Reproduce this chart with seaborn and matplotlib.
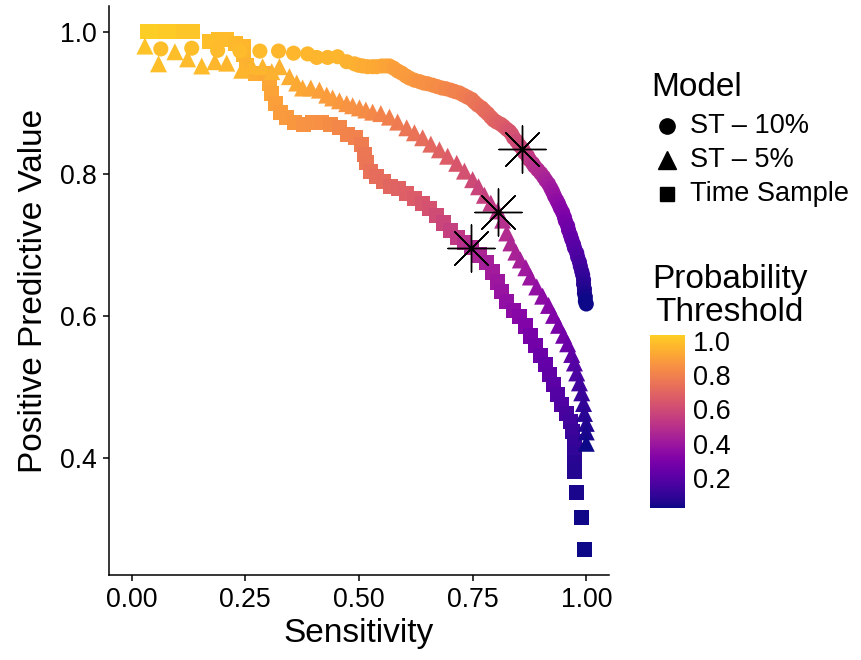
import numpy as np
import pandas as pd
import matplotlib
matplotlib.use("Agg")
import matplotlib.pyplot as plt
from matplotlib.lines import Line2D
from matplotlib.colors import Normalize, ListedColormap
from matplotlib.cm import ScalarMappable
import seaborn as sns

# ---------------- data ----------------
models = ["ST \u2013 10%", "ST \u2013 5%", "Time Sample"]

st10_sens = [0.064, 0.132, 0.189, 0.238, 0.282, 0.323, 0.356, 0.387, 0.407, 0.431, 0.453, 0.473,
             0.490, 0.499, 0.508, 0.519, 0.530, 0.539, 0.550, 0.559, 0.567, 0.576, 0.585, 0.594,
             0.603, 0.611, 0.622, 0.633, 0.642, 0.651, 0.662, 0.672, 0.682, 0.691, 0.702, 0.711,
             0.721, 0.730, 0.739, 0.748, 0.754, 0.761, 0.770, 0.776, 0.783, 0.790, 0.796, 0.803,
             0.812, 0.818, 0.825, 0.831, 0.836, 0.840, 0.847, 0.853, 0.860, 0.864, 0.871, 0.875,
             0.882, 0.886, 0.893, 0.900, 0.906, 0.911, 0.917, 0.922, 0.926, 0.930, 0.935, 0.939,
             0.943, 0.948, 0.952, 0.954, 0.959, 0.961, 0.965, 0.968, 0.972, 0.974, 0.979, 0.981,
             0.985, 0.987, 0.990, 0.992, 0.994, 0.994, 0.996, 0.996, 0.998, 0.998, 1.000]
st10_ppv = [0.976, 0.977, 0.974, 0.973, 0.973, 0.973, 0.970, 0.969, 0.964, 0.964, 0.965, 0.958,
            0.955, 0.953, 0.952, 0.951, 0.951, 0.951, 0.952, 0.952, 0.952, 0.949, 0.945, 0.942,
            0.938, 0.935, 0.932, 0.930, 0.928, 0.927, 0.925, 0.923, 0.921, 0.920, 0.918, 0.916,
            0.914, 0.911, 0.908, 0.905, 0.901, 0.897, 0.893, 0.889, 0.885, 0.880, 0.876, 0.873,
            0.870, 0.867, 0.863, 0.860, 0.856, 0.851, 0.846, 0.840, 0.835, 0.830, 0.825, 0.820,
            0.815, 0.811, 0.806, 0.801, 0.796, 0.791, 0.786, 0.780, 0.775, 0.769, 0.763, 0.758,
            0.752, 0.746, 0.739, 0.734, 0.727, 0.721, 0.714, 0.708, 0.701, 0.696, 0.689, 0.683,
            0.676, 0.670, 0.663, 0.658, 0.651, 0.645, 0.638, 0.632, 0.627, 0.621, 0.617]
st10_thr = [0.99, 0.99, 0.98, 0.98, 0.98, 0.97,
            0.97, 0.97, 0.96, 0.96, 0.96, 0.95,
            0.95, 0.945, 0.94, 0.935, 0.93, 0.925, 0.92, 0.915, 0.91, 0.90, 0.895, 0.89,
            0.885, 0.88, 0.87, 0.865, 0.86, 0.85, 0.845, 0.835, 0.83, 0.82, 0.815, 0.805,
            0.80, 0.79, 0.78, 0.77, 0.76, 0.75, 0.74, 0.73, 0.72, 0.71, 0.70, 0.69,
            0.68, 0.67, 0.655, 0.64, 0.63, 0.62, 0.60, 0.59, 0.575, 0.56, 0.545, 0.53,
            0.515, 0.50, 0.485, 0.47, 0.455, 0.44, 0.425, 0.41, 0.395, 0.38, 0.365, 0.35,
            0.335, 0.32, 0.305, 0.29, 0.275, 0.26, 0.245, 0.23, 0.215, 0.20, 0.185, 0.17,
            0.155, 0.14, 0.125, 0.11, 0.095, 0.08, 0.065, 0.05, 0.04, 0.03, 0.023]

st5_sens = [0.029, 0.059, 0.095, 0.123, 0.154, 0.183, 0.209, 0.242, 0.264, 0.288, 0.308, 0.325,
            0.347, 0.363, 0.376, 0.394, 0.413, 0.429, 0.442, 0.457, 0.473, 0.486, 0.501, 0.515,
            0.530, 0.548, 0.567, 0.585, 0.605, 0.622, 0.640, 0.658, 0.677, 0.695, 0.715, 0.732,
            0.750, 0.763, 0.776, 0.790, 0.805, 0.816, 0.825, 0.834, 0.845, 0.855, 0.867, 0.877,
            0.891, 0.904, 0.917, 0.928, 0.939, 0.950, 0.959, 0.968, 0.974, 0.979, 0.985, 0.990,
            0.994, 0.996, 1.000, 1.000, 1.000]
st5_ppv = [0.980, 0.955, 0.972, 0.962, 0.952, 0.958, 0.956, 0.946, 0.952, 0.951, 0.944, 0.951,
           0.937, 0.928, 0.921, 0.921, 0.918, 0.911, 0.907, 0.903, 0.899, 0.896, 0.893, 0.890,
           0.887, 0.885, 0.880, 0.873, 0.865, 0.858, 0.851, 0.842, 0.834, 0.825, 0.815, 0.804,
           0.792, 0.782, 0.770, 0.759, 0.748, 0.735, 0.717, 0.703, 0.690, 0.679, 0.668, 0.655,
           0.641, 0.628, 0.615, 0.601, 0.587, 0.573, 0.561, 0.546, 0.534, 0.520, 0.506, 0.492,
           0.477, 0.463, 0.449, 0.437, 0.421]
st5_thr = [1.00, 0.99, 0.99, 0.98, 0.98, 0.97, 0.97, 0.96, 0.96, 0.96, 0.95, 0.95,
           0.94, 0.93, 0.92, 0.91, 0.90, 0.89, 0.885, 0.875, 0.865, 0.855, 0.845, 0.835,
           0.825, 0.81, 0.795, 0.78, 0.765, 0.75, 0.73, 0.71, 0.69, 0.67, 0.645, 0.62,
           0.595, 0.575, 0.555, 0.53, 0.505, 0.49, 0.475, 0.46, 0.445, 0.43, 0.41, 0.39,
           0.37, 0.35, 0.33, 0.31, 0.29, 0.27, 0.25, 0.22, 0.19, 0.165, 0.14, 0.12,
           0.10, 0.08, 0.06, 0.045, 0.03]

ts_sens = [0.035, 0.055, 0.075, 0.095, 0.114, 0.134, 0.172, 0.191, 0.209, 0.229, 0.246, 0.246,
           0.253, 0.273, 0.295, 0.303, 0.308, 0.317, 0.328, 0.341, 0.358, 0.378, 0.398, 0.418,
           0.438, 0.457, 0.475, 0.493, 0.506, 0.512, 0.517, 0.526, 0.539, 0.554, 0.570, 0.587,
           0.605, 0.622, 0.640, 0.655, 0.671, 0.686, 0.702, 0.717, 0.732, 0.748, 0.765, 0.781,
           0.794, 0.805, 0.814, 0.825, 0.840, 0.853, 0.867, 0.877, 0.888, 0.900, 0.910, 0.919,
           0.928, 0.937, 0.946, 0.957, 0.965, 0.970, 0.974, 0.974, 0.974, 0.974, 0.979, 0.990,
           0.996]
ts_ppv = [1.000, 1.000, 1.000, 1.000, 1.000, 1.000, 0.986, 0.989, 0.989, 0.983, 0.979, 0.968,
          0.952, 0.941, 0.941, 0.927, 0.913, 0.899, 0.887, 0.879, 0.872, 0.870, 0.872, 0.873,
          0.870, 0.865, 0.856, 0.851, 0.841, 0.828, 0.816, 0.804, 0.796, 0.789, 0.783, 0.779,
          0.773, 0.766, 0.759, 0.751, 0.741, 0.731, 0.721, 0.711, 0.703, 0.696, 0.686, 0.675,
          0.662, 0.648, 0.634, 0.620, 0.608, 0.599, 0.586, 0.572, 0.558, 0.545, 0.532, 0.518,
          0.504, 0.490, 0.476, 0.463, 0.451, 0.437, 0.423, 0.408, 0.394, 0.382, 0.352, 0.317,
          0.272]
ts_thr = [1.03, 1.03, 1.02, 1.02, 1.01, 1.01,
          0.99, 0.985, 0.98, 0.975, 0.97, 0.96,
          0.95, 0.94, 0.93, 0.92, 0.91, 0.90, 0.89, 0.88, 0.87, 0.86, 0.855, 0.85,
          0.835, 0.82, 0.81, 0.80, 0.785, 0.77, 0.76, 0.745, 0.73, 0.72, 0.705, 0.695,
          0.68, 0.665, 0.645, 0.625, 0.605, 0.58, 0.555, 0.53, 0.50, 0.47, 0.45, 0.43,
          0.415, 0.40, 0.385, 0.37, 0.35, 0.33, 0.31, 0.29, 0.27, 0.25, 0.235, 0.22,
          0.205, 0.19, 0.175, 0.155, 0.14, 0.125, 0.11, 0.095, 0.08, 0.068, 0.045, 0.034,
          0.023]

# highlighted operating points
star_sens = [0.859, 0.806, 0.747]
star_ppv = [0.835, 0.747, 0.696]

x_ticks = [0.00, 0.25, 0.50, 0.75, 1.00]
x_ticklabels = ["0.00", "0.25", "0.50", "0.75", "1.00"]
y_ticks = [0.4, 0.6, 0.8, 1.0]
y_ticklabels = ["0.4", "0.6", "0.8", "1.0"]
cbar_ticks = [0.2, 0.4, 0.6, 0.8, 1.0]
cbar_ticklabels = ["0.2", "0.4", "0.6", "0.8", "1.0"]

# ---------------- build table ----------------
frames = []
for name, sx, sy, st in [(models[0], st10_sens, st10_ppv, st10_thr),
                         (models[1], st5_sens, st5_ppv, st5_thr),
                         (models[2], ts_sens, ts_ppv, ts_thr)]:
    frames.append(pd.DataFrame({"Sensitivity": sx, "PPV": sy, "Threshold": st, "Model": name}))
df = pd.concat(frames, ignore_index=True)

sns.set_style("white")
plt.rcParams["font.family"] = ["Liberation Sans", "DejaVu Sans"]
plt.rcParams["text.color"] = "black"
plt.rcParams["axes.labelcolor"] = "black"
plt.rcParams["xtick.color"] = "black"
plt.rcParams["ytick.color"] = "black"

# plasma, trimmed at the yellow end (as in the reference scale)
cmap = ListedColormap(plt.get_cmap("plasma")(np.linspace(0.0, 0.9, 256)), name="plasma_trim")

W, H = 862, 660
fig = plt.figure(figsize=(W / 100, H / 100), dpi=100)
ax = fig.add_axes([109 / W, 1 - 575 / H, 500 / W, 569 / H])

vmin, vmax = 0.023, 1.035
norm = Normalize(vmin, vmax)
marker_map = {models[0]: ("o", 118), models[1]: ("^", 150), models[2]: ("s", 118)}
z_map = {models[2]: 2, models[1]: 3, models[0]: 4}

for name in [models[2], models[1], models[0]]:
    m, s = marker_map[name]
    sub = df[df["Model"] == name]
    sns.scatterplot(data=sub, x="Sensitivity", y="PPV", hue="Threshold", palette=cmap,
                    hue_norm=norm, marker=m, s=s, linewidth=0, edgecolor="none",
                    legend=False, ax=ax, zorder=z_map[name])

# operating-point asterisks
ax.scatter(star_sens, star_ppv, marker=(8, 2, 0), s=1150, color="black", linewidths=1.0, zorder=5)
ax.scatter(star_sens, star_ppv, marker="o", s=18, color="black", linewidths=0, zorder=6)

ax.set_xlim(-0.05, 1.05)
ax.set_ylim(0.2356, 1.0364)
ax.set_xticks(x_ticks)
ax.set_xticklabels(x_ticklabels)
ax.set_yticks(y_ticks)
ax.set_yticklabels(y_ticklabels)
for sp in ["top", "right"]:
    ax.spines[sp].set_visible(False)
for sp in ["left", "bottom"]:
    ax.spines[sp].set_color("black")
    ax.spines[sp].set_linewidth(1.1)
ax.tick_params(axis="both", direction="out", length=4.5, width=1.1, color="black",
               labelsize=19.2, labelcolor="black", pad=4, bottom=True, left=True)
ax.set_xlabel("Sensitivity", fontsize=24, labelpad=4, color="black")
ax.set_ylabel("Positive Predictive Value", fontsize=24, labelpad=8, color="black")
ax.grid(False)

# ---------------- shape legend (manual) ----------------
fig.text(651 / W, 1 - 87 / H, "Model", fontsize=24, ha="left", va="center", color="black")
leg_y = [126, 160, 194]
leg_sizes = [11, 13.5, 10.5]
for name, yy, ms in zip(models, leg_y, leg_sizes):
    mk = marker_map[name][0]
    fig.add_artist(Line2D([667 / W], [1 - yy / H], marker=mk, markersize=ms, color="black",
                          linestyle="none", transform=fig.transFigure))
    fig.text(690 / W, 1 - yy / H, name, fontsize=19.5, ha="left", va="center", color="black")

# ---------------- colorbar ----------------
fig.text(652 / W, 1 - 296 / H, "Probability\nThreshold", fontsize=24, ha="left", va="center",
         multialignment="center", linespacing=1.1, color="black")
cax = fig.add_axes([650 / W, 1 - 508 / H, 35 / W, 173 / H])
sm = ScalarMappable(norm=norm, cmap=cmap)
cb = fig.colorbar(sm, cax=cax, ticks=cbar_ticks)
cb.outline.set_visible(False)
cb.ax.minorticks_off()
cb.ax.set_yticklabels(cbar_ticklabels)
cb.ax.tick_params(axis="y", direction="in", length=7, width=1, color="white",
                  labelcolor="black", labelsize=19.5, left=True, right=True,
                  labelleft=False, labelright=True, pad=6)

fig.savefig("out.png", dpi=100)
